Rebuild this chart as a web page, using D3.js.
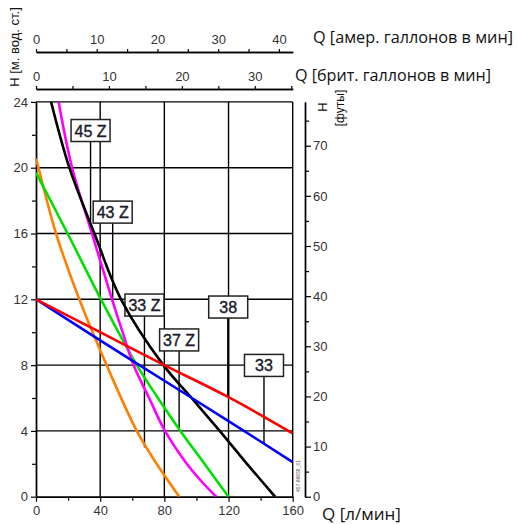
<!DOCTYPE html>
<html>
<head>
<meta charset="utf-8">
<script src="https://cdn.jsdelivr.net/npm/d3@7"></script>
<style>
  body { margin: 0; background: #fff; }
  text { font-family: "Liberation Sans", Arial, sans-serif; }
</style>
</head>
<body>
<script>
// pump curves: Q [л/мин], H [м]
const black45Z = [[9.4, 24], [20.8, 20], [36.4, 16], [53, 12], [79.4, 8], [97, 6], [114.5, 4], [131.5, 2], [149, 0]];
const magenta43Z = [[14.1, 24], [22.5, 20], [34.9, 16], [47.4, 12], [54, 10], [60.8, 8], [70.5, 6], [80.4, 4], [94, 2], [102.5, 1], [112.3, 0]];
const green37Z = [[0, 19.7], [19.7, 16], [40.5, 12], [62.8, 8], [76, 6], [90, 4], [105, 2], [120, 0]];
const orange33Z = [[0, 20.55], [1.5, 20], [12.5, 16], [27, 12], [44, 8], [62.8, 4], [75.2, 2], [89.3, 0]];
const red38 = [[0, 12], [40, 10], [80, 8], [120, 6.05], [160, 3.85]];
const blue33 = [[0, 12], [40, 9.5], [80, 7.05], [120, 4.6], [160, 2.1]];

const curves = [
  { name: 'orange', pts: orange33Z, color: '#ff8000' },
  { name: 'green', pts: green37Z, color: '#00e000' },
  { name: 'magenta', pts: magenta43Z, color: '#ff00ff' },
  { name: 'black', pts: black45Z, color: '#000000' },
  { name: 'blue', pts: blue33, color: '#0000ff' },
  { name: 'red', pts: red38, color: '#ff0000' }
];

// labels: text, box centre (Q, H), pointer end H
const labelNames = ['45 Z', '43 Z', '33 Z', '38', '37 Z', '33'];
const labelQ = [34, 47.8, 67.6, 119.8, 89.2, 142.1];
const labelH = [22.26, 17.3, 11.65, 11.53, 9.53, 7.98];
const pointerH = [16.7, 12, 3.0, 6.1, 4.1, 3.2];

const xTicks = [0, 40, 80, 120, 160];
const yTicks = [0, 4, 8, 12, 16, 20, 24];
const usTicks = [0, 10, 20, 30, 40];
const ukTicks = [0, 10, 20, 30];
const ftTicks = [0, 10, 20, 30, 40, 50, 60, 70];

const LPM_PER_USGAL = 3.785;
const LPM_PER_UKGAL = 4.546;
const M_PER_FT = 0.3048;

const W = 518, H = 524;
const x0 = 36, x1 = 292.7, yBot = 496.7, yTop = 101.9;

const svg = d3.select('body').append('svg')
  .attr('width', W)
  .attr('height', H);

const x = d3.scaleLinear().domain([0, 160]).range([x0, x1]);
const y = d3.scaleLinear().domain([0, 24]).range([yBot, yTop]);

svg.append('clipPath').attr('id', 'plot')
  .append('rect')
  .attr('x', x0).attr('y', yTop)
  .attr('width', x1 - x0).attr('height', yBot - yTop);

// grid
const grid = svg.append('g').attr('stroke', '#000').attr('stroke-width', 1.4);
grid.selectAll('.vg')
  .data(xTicks.slice(1))
  .enter().append('line')
  .attr('x1', d => x(d)).attr('x2', d => x(d))
  .attr('y1', y(0)).attr('y2', y(24));
grid.selectAll('.hg')
  .data(yTicks.slice(1))
  .enter().append('line')
  .attr('x1', x(0)).attr('x2', x(160))
  .attr('y1', d => y(d)).attr('y2', d => y(d));

function styleAxis(g) {
  g.selectAll('path').attr('stroke', '#000').attr('stroke-width', 1.4);
  g.selectAll('line').attr('stroke', '#000').attr('stroke-width', 1.2);
  g.selectAll('text').attr('fill', '#333').style('font-size', '13px')
    .style('font-family', '"Liberation Sans", Arial, sans-serif');
}

// bottom axis
const bottom = svg.append('g')
  .attr('transform', `translate(0,${yBot})`)
  .call(d3.axisBottom(x).tickValues(xTicks).tickSize(5).tickSizeOuter(0).tickPadding(4));
svg.append('g')
  .attr('transform', `translate(0,${yBot})`)
  .call(d3.axisBottom(x).tickValues([20, 60, 100, 140]).tickSize(4).tickFormat('').tickSizeOuter(0))
  .call(styleAxis);
styleAxis(bottom);

// left axis
const left = svg.append('g')
  .attr('transform', `translate(${x0},0)`)
  .call(d3.axisLeft(y).tickValues(yTicks).tickSize(5).tickSizeOuter(0).tickPadding(3));
svg.append('g')
  .attr('transform', `translate(${x0},0)`)
  .call(d3.axisLeft(y).tickValues([2, 6, 10, 14, 18, 22]).tickSize(4).tickFormat('').tickSizeOuter(0))
  .call(styleAxis);
styleAxis(left);

// right axis in feet
const yFt = d3.scaleLinear().domain([0, 24 / M_PER_FT]).range([yBot, yTop]);
const rightAx = svg.append('g')
  .attr('transform', 'translate(305,0)')
  .call(d3.axisRight(yFt).tickValues(ftTicks).tickSize(6).tickSizeOuter(0).tickPadding(2));
svg.append('g')
  .attr('transform', 'translate(305,0)')
  .call(d3.axisRight(yFt).tickValues([5, 15, 25, 35, 45, 55, 65, 75]).tickSize(4).tickFormat('').tickSizeOuter(0))
  .call(styleAxis);
styleAxis(rightAx);

// top axes: US gallons and imperial gallons
const xUS = d3.scaleLinear().domain([0, 160 / LPM_PER_USGAL]).range([x0, x1]);
const xUK = d3.scaleLinear().domain([0, 160 / LPM_PER_UKGAL]).range([x0, x1]);
const usAx = svg.append('g')
  .attr('transform', 'translate(0,52)')
  .call(d3.axisTop(xUS).tickValues(usTicks).tickSize(3).tickSizeOuter(0).tickPadding(5));
svg.append('g')
  .attr('transform', 'translate(0,52)')
  .call(d3.axisTop(xUS).tickValues([5, 15, 25, 35]).tickSize(3).tickFormat('').tickSizeOuter(0))
  .call(styleAxis);
styleAxis(usAx);
const ukAx = svg.append('g')
  .attr('transform', 'translate(0,89)')
  .call(d3.axisTop(xUK).tickValues(ukTicks).tickSize(3).tickSizeOuter(0).tickPadding(5));
svg.append('g')
  .attr('transform', 'translate(0,89)')
  .call(d3.axisTop(xUK).tickValues([5, 15, 25, 35]).tickSize(3).tickFormat('').tickSizeOuter(0))
  .call(styleAxis);
styleAxis(ukAx);

// axis titles
const titleFont = '"Open Sans", "Liberation Sans", sans-serif';
svg.append('text').attr('x', 313).attr('y', 43)
  .style('font-size', '16.5px').style('font-family', titleFont).attr('fill', '#111')
  .attr('textLength', 200).attr('lengthAdjust', 'spacingAndGlyphs')
  .text('Q [амер. галлонов в мин]');
svg.append('text').attr('x', 295).attr('y', 81)
  .style('font-size', '16.5px').style('font-family', titleFont).attr('fill', '#111')
  .attr('textLength', 196).attr('lengthAdjust', 'spacingAndGlyphs')
  .text('Q [брит. галлонов в мин]');
svg.append('text').attr('x', 322).attr('y', 520)
  .style('font-size', '17px').style('font-family', titleFont).attr('fill', '#111')
  .text('Q [л/мин]');
svg.append('text')
  .attr('transform', 'translate(19,47) rotate(-90)')
  .attr('text-anchor', 'middle')
  .style('font-size', '13px').attr('fill', '#111')
  .text('H [м. вод. ст.]');
svg.append('text')
  .attr('transform', 'translate(327,107) rotate(-90)')
  .attr('text-anchor', 'middle')
  .style('font-size', '13px').attr('fill', '#111')
  .text('H');
svg.append('text')
  .attr('transform', 'translate(344,108) rotate(-90)')
  .attr('text-anchor', 'middle')
  .style('font-size', '12px').attr('fill', '#111')
  .text('[футы]');
svg.append('text')
  .attr('transform', 'translate(300,476) rotate(-90)')
  .attr('text-anchor', 'middle')
  .style('font-size', '5px').attr('fill', '#555')
  .text('457 66638_01');

// pointer lines and label boxes
const lab = svg.append('g');
labelNames.forEach((name, i) => {
  lab.append('line')
    .attr('x1', x(labelQ[i])).attr('x2', x(labelQ[i]))
    .attr('y1', y(labelH[i]) + 11).attr('y2', y(pointerH[i]))
    .attr('stroke', '#000').attr('stroke-width', name === '38' ? 2.2 : 1.4);
});

// curves
const line = d3.line()
  .x(d => x(d[0]))
  .y(d => y(d[1]))
  .curve(d3.curveCatmullRom.alpha(0.5));
svg.append('g').attr('clip-path', 'url(#plot)')
  .selectAll('.curve')
  .data(curves)
  .enter().append('path')
  .attr('d', d => line(d.pts))
  .attr('fill', 'none')
  .attr('stroke', d => d.color)
  .attr('stroke-width', 2.6);

labelNames.forEach((name, i) => {
  const cx = x(labelQ[i]), cy = y(labelH[i]);
  lab.append('rect')
    .attr('x', cx - 19.5).attr('y', cy - 11)
    .attr('width', 39).attr('height', 22)
    .attr('fill', '#fff').attr('stroke', '#222').attr('stroke-width', 1.5);
  lab.append('text')
    .attr('x', cx).attr('y', cy + 6)
    .attr('text-anchor', 'middle')
    .style('font-size', '16px')
    .attr('fill', '#1a1a2a').attr('stroke', '#1a1a2a').attr('stroke-width', 0.4)
    .text(name);
});
</script>
</body>
</html>
